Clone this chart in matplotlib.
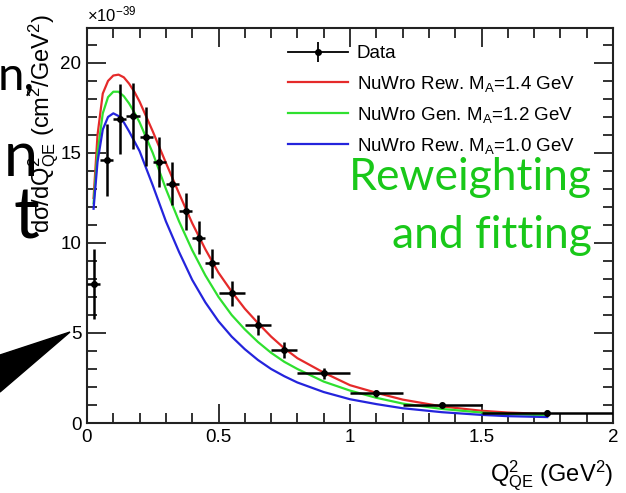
import numpy as np
import matplotlib
matplotlib.use("Agg")
import matplotlib.pyplot as plt
from matplotlib.lines import Line2D
from matplotlib.legend_handler import HandlerTuple
from matplotlib.ticker import MultipleLocator

# data points (bin centres, half widths, cross section, errors) in 1e-39 cm2/GeV2
q2_centers = [0.025, 0.075, 0.125, 0.175, 0.225, 0.275, 0.325, 0.375, 0.425, 0.475,
              0.55, 0.65, 0.75, 0.9, 1.1, 1.35, 1.75]
q2_halfwidth = [0.025, 0.025, 0.025, 0.025, 0.025, 0.025, 0.025, 0.025, 0.025, 0.025,
                0.05, 0.05, 0.05, 0.1, 0.1, 0.15, 0.25]
xsec = [7.7, 14.6, 16.9, 17.05, 15.9, 14.5, 13.3, 11.75, 10.3, 8.87,
        7.2, 5.44, 4.06, 2.76, 1.65, 1.0, 0.55]
xsec_err = [1.95, 2.0, 1.95, 1.85, 1.65, 1.4, 1.2, 1.05, 0.9, 0.8,
            0.7, 0.55, 0.45, 0.32, 0.2, 0.1, 0.15]

# NuWro predictions
curve_q2 = [0.025, 0.04, 0.06, 0.08, 0.1, 0.12, 0.14, 0.16, 0.18, 0.2, 0.25, 0.3, 0.35,
            0.4, 0.45, 0.5, 0.55, 0.6, 0.65, 0.7, 0.75, 0.8, 0.9, 1.0, 1.1, 1.2, 1.35,
            1.5, 1.6, 1.75]
nuwro_14 = [12.5, 16.0, 18.3, 19.0, 19.3, 19.35, 19.2, 18.85, 18.4, 17.85, 16.2, 14.45, 12.75,
            11.1, 9.65, 8.35, 7.3, 6.35, 5.55, 4.8, 4.15, 3.6, 2.8, 2.1, 1.68, 1.3, 0.92,
            0.68, 0.58, 0.5]
nuwro_12 = [12.2, 15.0, 17.2, 18.1, 18.4, 18.4, 18.15, 17.75, 17.25, 16.7, 15.0, 13.0, 11.2,
            9.6, 8.2, 7.0, 6.0, 5.2, 4.5, 3.9, 3.4, 3.0, 2.3, 1.8, 1.4, 1.08, 0.78,
            0.58, 0.5, 0.43]
nuwro_10 = [11.9, 14.5, 16.3, 17.0, 17.2, 17.05, 16.7, 16.2, 15.65, 15.1, 13.2, 11.2, 9.5,
            7.95, 6.7, 5.65, 4.8, 4.1, 3.5, 3.0, 2.6, 2.25, 1.72, 1.32, 1.05, 0.82, 0.6,
            0.45, 0.38, 0.33]

labels = ["Data", "NuWro Rew. M$_{\\mathregular{A}}$=1.4 GeV",
          "NuWro Gen. M$_{\\mathregular{A}}$=1.2 GeV", "NuWro Rew. M$_{\\mathregular{A}}$=1.0 GeV"]

red = '#e52a2a'
green = '#2fe02f'
blue = '#2424dc'

plt.rcParams['font.family'] = ['Liberation Sans', 'DejaVu Sans']
plt.rcParams['mathtext.fontset'] = 'custom'
plt.rcParams['mathtext.rm'] = 'Liberation Sans'
plt.rcParams['mathtext.it'] = 'Liberation Sans'

fig = plt.figure(figsize=(6.26, 4.93), dpi=100)

# slide text behind the plot
fig.text(-0.003, 1 - 90/493, 'n,', color='black', fontsize=34, family='Lato',
         ha='left', va='baseline')
fig.text(38/626, 1 - 176/493, 'n', color='black', fontsize=44, family='Lato',
         ha='right', va='baseline')
fig.text(39/626, 1 - 238/493, 't', color='black', fontsize=52, family='Lato',
         ha='right', va='baseline')
fig.patches.append(plt.Polygon([(0, 1 - 355/493), (70/626, 1 - 332/493), (0, 1 - 392/493)],
                               closed=True, color='black', transform=fig.transFigure))

ax = fig.add_axes([87/626, 1 - 423/493, (613-87)/626, (423-28)/493])

l14, = ax.plot(curve_q2, nuwro_14, color=red, lw=1.6)
l12, = ax.plot(curve_q2, nuwro_12, color=green, lw=1.6)
l10, = ax.plot(curve_q2, nuwro_10, color=blue, lw=1.6)
ax.errorbar(q2_centers, xsec, xerr=q2_halfwidth, yerr=xsec_err, fmt='o', color='black',
            ms=4, elinewidth=1.8, capsize=0, zorder=5)

ax.set_xlim(0, 2)
ax.set_ylim(0, 21.94)
ax.xaxis.set_major_locator(MultipleLocator(0.5))
ax.xaxis.set_minor_locator(MultipleLocator(0.1))
ax.yaxis.set_major_locator(MultipleLocator(5))
ax.yaxis.set_minor_locator(MultipleLocator(1))
ax.set_xticks([0, 0.5, 1, 1.5, 2])
ax.set_xticklabels(['0', '0.5', '1', '1.5', '2'])
ax.tick_params(which='both', direction='in', top=True, right=True, labelsize=13.5,
               width=1.3, color='#222222')
ax.tick_params(which='major', length=14, pad=4)
ax.tick_params(which='minor', length=7)
for s in ax.spines.values():
    s.set_linewidth(1.5)
    s.set_color('#222222')

ax.text(0.0, 1.008, r'$\times$10$^{\mathregular{-39}}$', transform=ax.transAxes,
        fontsize=12, ha='left', va='bottom')
ax.set_xlabel(r'Q$^{\mathregular{2}}_{\mathregular{QE}}$ (GeV$^{\mathregular{2}}$)', fontsize=17)
ax.xaxis.set_label_coords(1.0, -0.09)
ax.xaxis.label.set_ha('right')
ax.set_ylabel(r'd$\sigma$/dQ$^{\mathregular{2}}_{\mathregular{QE}}$ (cm$^{\mathregular{2}}$/GeV$^{\mathregular{2}}$)',
              fontsize=17)
ax.yaxis.set_label_coords(-0.082, 1.035)
ax.yaxis.label.set_va('center')
ax.yaxis.label.set_ha('right')

data_line = Line2D([], [], color='black', marker='o', ms=4, lw=1.3)
data_bar = Line2D([], [], color='black', marker='|', ms=14, mew=1.3, lw=0)
ax.legend([(data_line, data_bar), l14, l12, l10], labels,
          handler_map={tuple: HandlerTuple(ndivide=1)},
          loc='upper left', bbox_to_anchor=(0.36, 0.985), frameon=False,
          fontsize=13.5, handlelength=3.2, handletextpad=0.5, labelspacing=0.6,
          borderaxespad=0.2)

# green slide overlay
fig.text(592/626, 1 - 190/493, 'Reweighting', color='#19c819', fontsize=32,
         family='Lato', ha='right', va='baseline')
fig.text(592/626, 1 - 248/493, 'and fitting', color='#19c819', fontsize=32,
         family='Lato', ha='right', va='baseline')

fig.savefig('out.png', dpi=100)
